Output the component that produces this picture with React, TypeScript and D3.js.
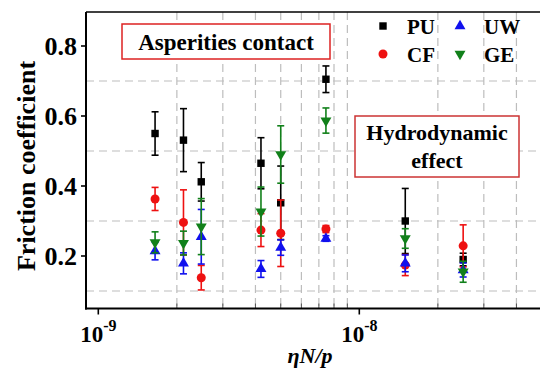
import React from 'react';
import * as d3 from 'd3';

// x positions (eta N / p)
const xValues = [1.65e-9, 2.12e-9, 2.48e-9, 4.2e-9, 5.0e-9, 7.45e-9, 1.5e-8, 2.5e-8];

const puValues = [0.55, 0.531, 0.412, 0.465, 0.352, 0.705, 0.3, 0.19];
const puErrors = [0.062, 0.09, 0.055, 0.073, 0.105, 0.038, 0.093, 0.018];
const cfValues = [0.363, 0.296, 0.138, 0.274, 0.265, 0.277, 0.174, 0.229];
const cfErrors = [0.033, 0.093, 0.035, 0.047, 0.095, 0.01, 0.03, 0.06];
const uwValues = [0.214, 0.179, 0.255, 0.163, 0.224, 0.25, 0.179, 0.16];
const uwErrors = [0.025, 0.03, 0.078, 0.024, 0.022, 0.008, 0.024, 0.02];
const geValues = [0.239, 0.237, 0.284, 0.327, 0.49, 0.587, 0.25, 0.155];
const geErrors = [0.03, 0.034, 0.08, 0.07, 0.082, 0.036, 0.028, 0.03];

const yTicks = [0.2, 0.4, 0.6, 0.8];
const yGrid = [0.1, 0.3, 0.5, 0.7];
const xMajorTicks = [1e-9, 1e-8];
const xMajorLabels = ['-9', '-8'];

const FONT = "'Liberation Serif', 'Times New Roman', serif";

type Series = { name: string; color: string; symbol: string; values: number[]; errors: number[] };

const series: Series[] = [
  { name: 'PU', color: '#000000', symbol: 'square', values: puValues, errors: puErrors },
  { name: 'CF', color: '#ee1111', symbol: 'circle', values: cfValues, errors: cfErrors },
  { name: 'UW', color: '#1010ee', symbol: 'up', values: uwValues, errors: uwErrors },
  { name: 'GE', color: '#11801a', symbol: 'down', values: geValues, errors: geErrors },
];

const Marker: React.FC<{ kind: string; x: number; y: number; color: string }> = ({ kind, x, y, color }) => {
  if (kind === 'circle') return <circle cx={x} cy={y} r={4.5} fill={color} />;
  const gen =
    kind === 'square'
      ? d3.symbol().type(d3.symbolSquare).size(55)
      : d3.symbol().type(d3.symbolTriangle).size(52);
  const rot = kind === 'down' ? 180 : 0;
  return <path d={gen() as string} fill={color} transform={`translate(${x},${y}) rotate(${rot})`} />;
};

const App: React.FC = () => {
  const width = 540;
  const height = 371;
  const left = 86;
  const top = 12;
  const bottom = 308.5;
  const right = 543;

  const x = d3.scaleLog().domain([1e-9, 1e-8]).range([98.3, 359.3]);
  const y = d3.scaleLinear().domain([0.2, 0.8]).range([256, 46]);

  // minor positions 2..9 x 10^n
  const xMinor: number[] = [];
  [1e-9, 1e-8].forEach(dec => {
    for (let k = 2; k <= 9; k++) {
      const v = k * dec;
      if (x(v) > left && x(v) < right) xMinor.push(v);
    }
  });

  const cap = 3.5;

  return (
    <svg
      width={width}
      height={height}
      style={{ position: 'absolute', left: 0, top: 0, background: '#fff', fontFamily: FONT }}
    >
      <rect x={0} y={0} width={width} height={height} fill="#fff" />

      {/* grid */}
      <g stroke="#bdbdbd" strokeWidth={1.2} strokeDasharray="8,5" fill="none">
        {yGrid.map(v => (
          <line key={'h' + v} x1={left} x2={right} y1={y(v)} y2={y(v)} />
        ))}
        {xMinor.map(v => (
          <line key={'v' + v} x1={x(v)} x2={x(v)} y1={top} y2={bottom} />
        ))}
      </g>

      {/* minor ticks */}
      <g stroke="#555" strokeWidth={1}>
        {xMinor.map(v => (
          <line key={'mt' + v} x1={x(v)} x2={x(v)} y1={bottom} y2={bottom - 5} />
        ))}
      </g>

      {/* error bars and markers */}
      {series.map(s => (
        <g key={s.name}>
          {xValues.map((xv, i) => {
            const cx = x(xv);
            const y1 = y(s.values[i] + s.errors[i]);
            const y2 = y(s.values[i] - s.errors[i]);
            return (
              <g key={i} stroke={s.color} strokeWidth={1.6}>
                <line x1={cx} x2={cx} y1={y1} y2={y2} />
                <line x1={cx - cap} x2={cx + cap} y1={y1} y2={y1} />
                <line x1={cx - cap} x2={cx + cap} y1={y2} y2={y2} />
              </g>
            );
          })}
          {xValues.map((xv, i) => (
            <Marker key={'m' + i} kind={s.symbol} x={x(xv)} y={y(s.values[i])} color={s.color} />
          ))}
        </g>
      ))}

      {/* axes */}
      <line x1={left} x2={right} y1={top} y2={top} stroke="#000" strokeWidth={1.6} />
      <line x1={left} x2={left} y1={top} y2={bottom + 1} stroke="#000" strokeWidth={2} />
      <line x1={left - 1} x2={right} y1={bottom} y2={bottom} stroke="#000" strokeWidth={2} />

      {yTicks.map(v => (
        <g key={'yt' + v}>
          <line x1={left - 5} x2={left} y1={y(v)} y2={y(v)} stroke="#000" strokeWidth={1.6} />
          <text
            x={left - 9}
            y={y(v) + 9}
            textAnchor="end"
            fontSize={26}
            fontWeight="bold"
            fill="#000"
          >
            {d3.format('.1f')(v)}
          </text>
        </g>
      ))}

      {xMajorTicks.map((v, i) => (
        <g key={'xt' + v}>
          <line x1={x(v)} x2={x(v)} y1={bottom} y2={bottom + 6} stroke="#000" strokeWidth={1.6} />
          <text x={x(v)} y={342} textAnchor="middle" fontWeight="bold" fill="#000">
            <tspan fontSize={23}>10</tspan>
            <tspan fontSize={16} dy={-11}>
              {xMajorLabels[i]}
            </tspan>
          </text>
        </g>
      ))}

      {/* axis titles */}
      <text
        transform={`translate(35,166) rotate(-90)`}
        textAnchor="middle"
        fontSize={26}
        fontWeight="bold"
        fill="#000"
      >
        Friction coefficient
      </text>
      <text
        x={310}
        y={363}
        textAnchor="middle"
        fontSize={22}
        fontWeight="bold"
        fontStyle="italic"
        fill="#000"
      >
        ηN/p
      </text>

      {/* annotation boxes */}
      <rect x={122} y={24} width={208} height={35} fill="#fff" stroke="#dd2222" strokeWidth={1.5} />
      <text x={226} y={50} textAnchor="middle" fontSize={23} fontWeight="bold" fill="#000">
        Asperities contact
      </text>
      <rect x={355} y={116} width={164} height={61} fill="#fff" stroke="#cc3333" strokeWidth={1.5} />
      <text x={437} y={140} textAnchor="middle" fontSize={22} fontWeight="bold" fill="#000">
        Hydrodynamic
      </text>
      <text x={437} y={168} textAnchor="middle" fontSize={22} fontWeight="bold" fill="#000">
        effect
      </text>

      {/* legend */}
      {series.map((s, i) => {
        const lx = i < 2 ? 383 : 460;
        const ly = i % 2 === 0 ? 26 : 54;
        return (
          <g key={'lg' + s.name}>
            <Marker kind={s.symbol} x={lx} y={ly} color={s.color} />
            <text x={lx + 24} y={ly + 8} fontSize={21} fontWeight="bold" fill="#000">
              {s.name}
            </text>
          </g>
        );
      })}
    </svg>
  );
};

export default App;
